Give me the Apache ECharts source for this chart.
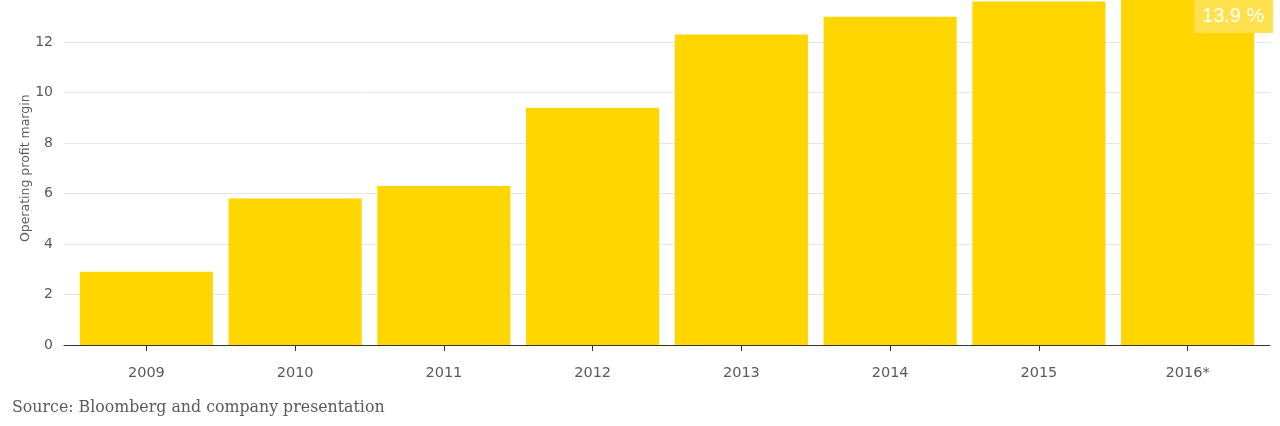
<!DOCTYPE html>
<html>
<head>
<meta charset="utf-8">
<script src="https://cdn.jsdelivr.net/npm/echarts@6/dist/echarts.min.js"></script>
<style>
html,body{margin:0;padding:0;background:#fff;}
#c{width:1280px;height:426px;}
</style>
</head>
<body>
<div id="c"></div>
<script>
const categories = ['2009','2010','2011','2012','2013','2014','2015','2016*'];
const margins = [2.9, 5.8, 6.3, 9.4, 12.3, 13.0, 13.6, 13.9];
const yTicks = [0, 2, 4, 6, 8, 10, 12, 14];
const yAxisName = 'Operating profit margin';
const sourceText = 'Source: Bloomberg and company presentation';
const lastLabel = '13.9 %';

const chart = echarts.init(document.getElementById('c'), null, {renderer:'canvas'});
const yMin = yTicks[0], yMax = yTicks[yTicks.length-1], yStep = yTicks[1]-yTicks[0];
const labelColor = '#5a5a5a';
const sans = 'DejaVu Sans, sans-serif';

chart.setOption({
  animation:false,
  grid:[
    {left:72, right:18, top:-8.5, bottom:81, outerBoundsMode:'none', containLabel:false},
    {left:64, right:10, top:-8.5, bottom:81, outerBoundsMode:'none', containLabel:false}
  ],
  xAxis:[
    {type:'category', gridIndex:0, data:categories,
     axisLine:{show:false},
     axisTick:{show:true, alignWithLabel:true, length:6, lineStyle:{color:'#333'}},
     axisLabel:{color:labelColor, fontSize:14.5, fontFamily:sans, margin:21}},
    {type:'category', gridIndex:1, data:categories,
     axisLine:{show:true, lineStyle:{color:'#333', width:1}},
     axisTick:{show:false}, axisLabel:{show:false}}
  ],
  yAxis:[
    {type:'value', gridIndex:0, min:yMin, max:yMax, interval:yStep,
     axisLabel:{show:false}, splitLine:{show:false}, axisLine:{show:false}, axisTick:{show:false}},
    {type:'value', gridIndex:1, min:yMin, max:yMax, interval:yStep,
     name:yAxisName, nameLocation:'middle', nameGap:32, nameMoveOverlap:false,
     nameTextStyle:{color:labelColor, fontSize:12.5, fontFamily:sans},
     axisLabel:{color:labelColor, fontSize:14, fontFamily:sans, margin:11},
     splitLine:{show:true, lineStyle:{color:'#e6e6e6', width:1}},
     axisLine:{show:false}, axisTick:{show:false}}
  ],
  series:[{
    type:'bar', xAxisIndex:0, yAxisIndex:0,
    barCategoryGap:'10.5%', clip:false,
    itemStyle:{color:'#FFD600'},
    data: margins.map((v,i)=> i===margins.length-1 ? {
      value:v,
      label:{show:true, formatter:lastLabel, position:[73,6], align:'left', verticalAlign:'top',
        color:'#fff', fontSize:20, fontFamily:'Liberation Sans, Arial, sans-serif',
        backgroundColor:'#FFE04D', padding:[5,8,6,8], width:63, height:22, lineHeight:22}
    } : v)
  }],
  graphic:[{
    type:'text', left:12, top:400,
    style:{text:sourceText, fill:labelColor, fontSize:15.8, fontFamily:'DejaVu Serif, serif'}
  }]
});
</script>
</body>
</html>
